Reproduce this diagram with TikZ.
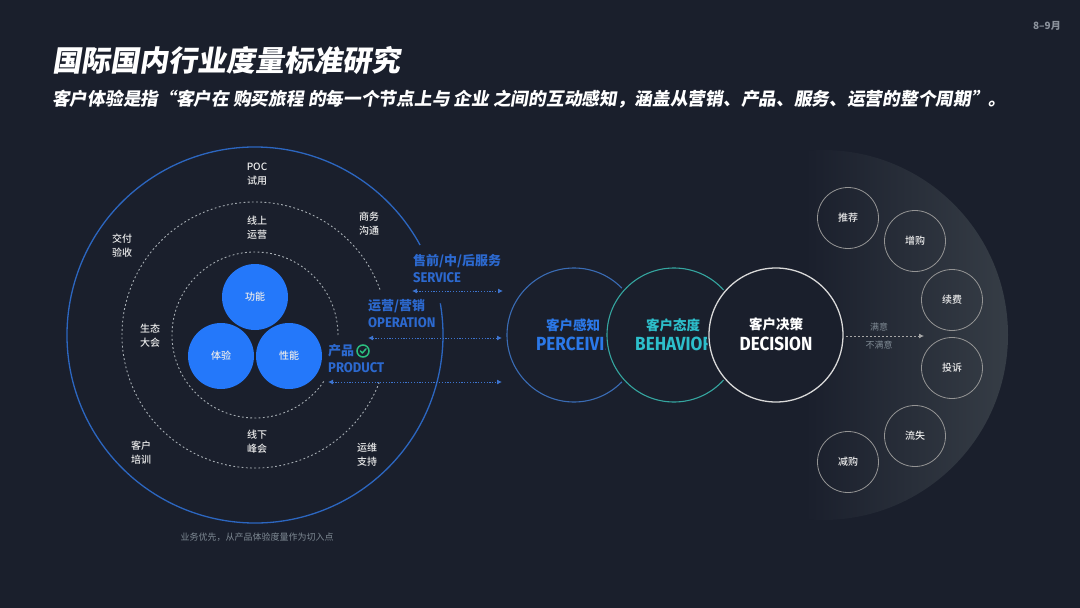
\documentclass[tikz,border=0pt]{standalone}
\usepackage{fontspec}
\usetikzlibrary{arrows.meta}
\setmainfont{Noto Sans CJK SC}
\newfontfamily\cjk{Noto Sans CJK SC}
\newfontfamily\cjkmed{Noto Sans CJK SC Medium}
\newfontfamily\cjkslant[FakeSlant=0.16]{Noto Sans CJK SC}
\newfontfamily\din[FakeStretch=0.9]{Fira Sans}
\newfontfamily\dinsmall[FakeStretch=0.93]{Fira Sans}
\definecolor{bg}{HTML}{1A1F2C}
\definecolor{halo}{HTML}{363D46}
\definecolor{ringblue}{HTML}{2C66C0}
\definecolor{dashgray}{HTML}{A6ADB3}
\definecolor{fillblue}{HTML}{2478FA}
\definecolor{labelblue}{HTML}{2C69CF}
\definecolor{arrowblue}{HTML}{3D74CF}
\definecolor{perring}{HTML}{3A6CB5}
\definecolor{pertext}{HTML}{2B78E8}
\definecolor{behring}{HTML}{35A6A0}
\definecolor{behtext}{HTML}{2DBFCB}
\definecolor{smallgray}{HTML}{7F8A94}
\definecolor{dategray}{HTML}{8B929C}
\definecolor{okgreen}{HTML}{2BBF7F}
\tikzset{
  x=1pt,y=-1pt,
  lab/.style={text=white!92!black,align=center,inner sep=0pt,font=\cjkmed\fontsize{10}{14}\selectfont},
  blob/.style={circle,fill=fillblue,minimum size=66pt,inner sep=0pt,text=white!92!black,font=\cjkmed\fontsize{10}{12}\selectfont},
  rcirc/.style={circle,draw=white!58!black,line width=.8pt,minimum size=61pt,inner sep=0pt,text=white!92!black,font=\cjkmed\fontsize{10}{12}\selectfont},
  bluecn/.style={anchor=west,inner sep=0pt,text=labelblue,font=\cjk\bfseries\fontsize{13}{15}\selectfont},
  blueen/.style={anchor=west,inner sep=0pt,text=labelblue,font=\dinsmall\bfseries\fontsize{14}{16}\selectfont},
  bigring/.style={circle,minimum size=134pt,inner sep=0pt,fill=bg,line width=1.1pt},
  dotarrow/.style={arrowblue,line width=.9pt,dash pattern=on 1.2pt off 1.6pt,{Latex[length=5pt,width=5pt]}-{Latex[length=5pt,width=5pt]}},
  dasharc/.style={dashgray,line width=.9pt,dash pattern=on 1.8pt off 2.4pt},
}
\begin{document}
\begin{tikzpicture}
\useasboundingbox (0,0) rectangle (1080,608);
\fill[bg] (0,0) rectangle (1080,608);
% right halo
\begin{scope}
  \clip (823,335) circle (185);
  \shade[left color=bg,middle color=bg!78!halo,right color=halo] (805,140) rectangle (1010,530);
\end{scope}
% title
\node[anchor=west,inner sep=0pt,text=white,font=\cjkslant\bfseries\fontsize{29}{32}\selectfont] (title) at (52,60) {国际国内行业度量标准研究};
\node[anchor=west,inner sep=0pt,text=white,font=\cjkslant\bfseries\fontsize{17.7}{20}\selectfont] (sub) at (52,99) {客户体验是指“客户在 购买旅程 的每一个节点上与 企业 之间的互动感知，涵盖从营销、产品、服务、运营的整个周期”。};
\node[anchor=east,inner sep=0pt,text=dategray,font=\cjk\bfseries\fontsize{10}{11}\selectfont] (date) at (1061,26) {8–9月};
% rings
\draw[ringblue,line width=1.3pt] (255,335) ++(-28.6:188) arc[start angle=-28.6,end angle=-369.7,radius=188];
\draw[dasharc] (255,335) ++(-20:133) arc[start angle=-20,end angle=-339,radius=133];
\draw[dasharc] (338,335) arc[start angle=0,end angle=-327,radius=83];
% blobs
\node[blob] (gn) at (255,297) {功能};
\node[blob] (ty) at (221,356) {体验};
\node[blob] (xn) at (289,356) {性能};
% ring labels
\node[lab] (poc) at (257,174) {POC\\试用};
\node[lab] (xs) at (257,228) {线上\\运营};
\node[lab] (sw) at (369,224) {商务\\沟通};
\node[lab] (jf) at (122,246) {交付\\验收};
\node[lab] (st) at (150,335.5) {生态\\大会};
\node[lab] (xx) at (257,442) {线下\\峰会};
\node[lab] (kh) at (141,452.5) {客户\\培训};
\node[lab] (yw) at (367,455) {运维\\支持};
\node[inner sep=0pt,text=smallgray,font=\cjk\fontsize{9}{11}\selectfont] (foot) at (257,537) {业务优先，从产品体验度量作为切入点};
% blue labels
\node[bluecn] (svc) at (413,261) {售前/中/后服务};
\node[blueen] (svcE) at (413,278) {SERVICE};
\node[bluecn] (opr) at (368,306) {运营/营销};
\node[blueen] (oprE) at (368,323) {OPERATION};
\node[bluecn] (prd) at (328,351) {产品};
\node[blueen] (prdE) at (328,368) {PRODUCT};
\node[circle,draw=okgreen,line width=1.5pt,minimum size=12pt,inner sep=0pt] (ok) at (363,351) {};
\draw[okgreen,line width=1.5pt,line cap=round,line join=round] ([shift={(-2.6,0)}]ok.center) -- ([shift={(-.6,2)}]ok.center) -- ([shift={(3,-2.2)}]ok.center);
% arrows
\coordinate (a1) at (412,291); \coordinate (a2) at (503,291);
\coordinate (b1) at (368,338); \coordinate (b2) at (502,338);
\coordinate (c1) at (328,382); \coordinate (c2) at (502,382);
\draw[dotarrow] (a1) -- (a2);
\draw[dotarrow] (b1) -- (b2);
\draw[dotarrow] (c1) -- (c2);
% three big circles
\node[bigring,draw=perring] (per) at (574,335) {};
\node[inner sep=0pt,text=pertext,font=\cjk\bfseries\fontsize{13.5}{15}\selectfont] (perC) at (573,325) {客户感知};
\node[anchor=west,inner sep=0pt,text=pertext,font=\din\bfseries\fontsize{19}{21}\selectfont] (perE) at (536,344) {PERCEIVING};
\fill[bg] (674,335) circle (70);
\node[bigring,draw=behring] (beh) at (674,335) {};
\node[inner sep=0pt,text=behtext,font=\cjk\bfseries\fontsize{13.5}{15}\selectfont] (behC) at (673,325) {客户态度};
\node[anchor=west,inner sep=0pt,text=behtext,font=\din\bfseries\fontsize{19}{21}\selectfont] (behE) at (635,344) {BEHAVIOR};
\fill[bg] (776,335) circle (69);
\node[bigring,draw=white!85!black,line width=1.3pt] (dec) at (776,335) {};
\node[inner sep=0pt,text=white,font=\cjk\bfseries\fontsize{13.5}{15}\selectfont] (decC) at (776,324) {客户决策};
\node[inner sep=0pt,text=white,font=\din\bfseries\fontsize{19}{21}\selectfont] (decE) at (776,344) {DECISION};
% decision arrow
\coordinate (d1) at (846,336); \coordinate (d2) at (924,336);
\draw[white!65!black,line width=.8pt,dash pattern=on 2pt off 2pt,-{Latex[length=5pt,width=5pt]}] (d1) -- (d2);
\node[inner sep=0pt,text=smallgray,font=\cjk\fontsize{9}{11}\selectfont] (my) at (879,327) {满意};
\node[inner sep=0pt,text=smallgray,font=\cjk\fontsize{9}{11}\selectfont] (bmy) at (879,345) {不满意};
% outcome circles
\node[rcirc] (tj) at (848,218) {推荐};
\node[rcirc] (zg) at (915,241) {增购};
\node[rcirc] (xf) at (952,300) {续费};
\node[rcirc] (ts) at (952,368) {投诉};
\node[rcirc] (ls) at (915,436) {流失};
\node[rcirc] (jg) at (848,462) {减购};
\end{tikzpicture}
\end{document}
